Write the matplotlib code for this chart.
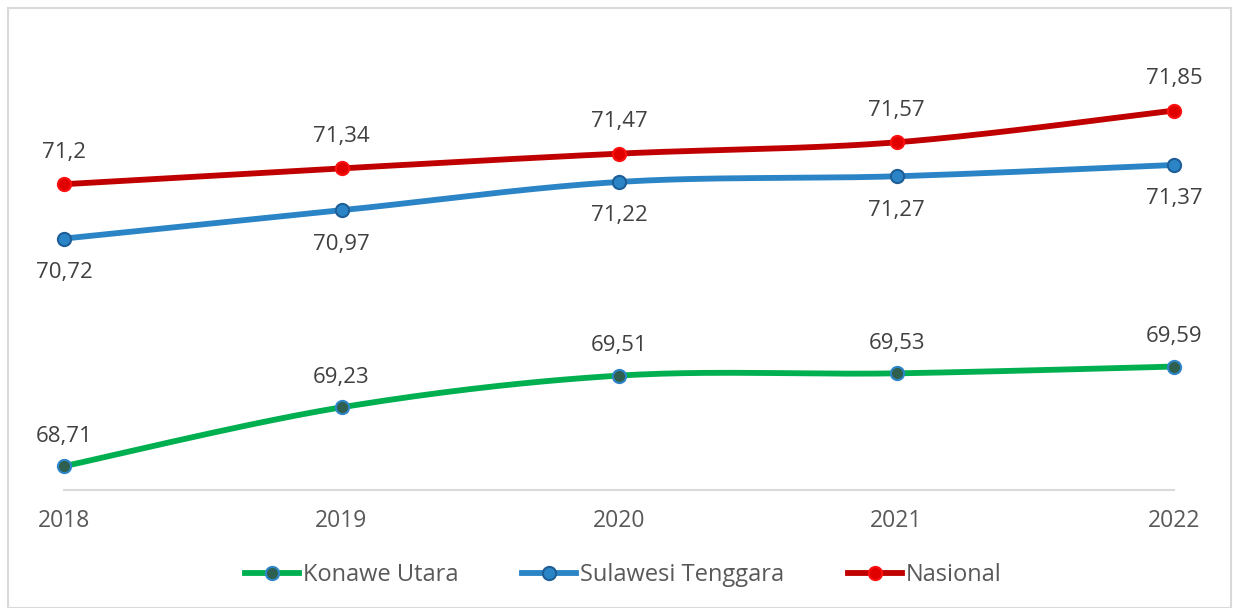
import matplotlib
matplotlib.use("Agg")
import matplotlib.pyplot as plt
import numpy as np
from matplotlib.patches import Rectangle
from matplotlib.lines import Line2D

plt.rcParams.update({
    "font.family": ["Open Sans", "DejaVu Sans"],
    "font.size": 16,
})

years = [2018, 2019, 2020, 2021, 2022]
konawe = [68.71, 69.23, 69.51, 69.53, 69.59]
sultra = [70.72, 70.97, 71.22, 71.27, 71.37]
nasional = [71.2, 71.34, 71.47, 71.57, 71.85]
series_names = ["Konawe Utara", "Sulawesi Tenggara", "Nasional"]


def smooth(x, y, n=40):
    """Excel-like smoothed line: cubic Bezier with 1/6 tangent control points."""
    x = np.asarray(x, float)
    y = np.asarray(y, float)
    px = np.concatenate([[x[0]], x, [x[-1]]])
    py = np.concatenate([[y[0]], y, [y[-1]]])
    xs, ys = [], []
    t = np.linspace(0, 1, n)
    for i in range(1, len(px) - 2):
        p0 = np.array([px[i], py[i]])
        p3 = np.array([px[i + 1], py[i + 1]])
        c1 = p0 + (np.array([px[i + 1], py[i + 1]]) - np.array([px[i - 1], py[i - 1]])) / 6
        c2 = p3 - (np.array([px[i + 2], py[i + 2]]) - np.array([px[i], py[i]])) / 6
        b = ((1 - t) ** 3)[:, None] * p0 + (3 * (1 - t) ** 2 * t)[:, None] * c1 \
            + (3 * (1 - t) * t ** 2)[:, None] * c2 + (t ** 3)[:, None] * p3
        xs.append(b[:, 0])
        ys.append(b[:, 1])
    return np.concatenate(xs), np.concatenate(ys)


fig = plt.figure(figsize=(12.33, 6.08), dpi=100)
fig.patches.append(Rectangle((7.5 / 1233, 0), (1230.5 - 7.5) / 1233, (608 - 7.5) / 608,
                             transform=fig.transFigure, fill=False,
                             edgecolor="#D9D9D9", linewidth=1.5))

ax = fig.add_axes([64 / 1233, (608 - 490) / 608, 1110 / 1233, 396.4 / 608])
ax.set_xlim(2018, 2022)
ax.set_ylim(68.5, 72.0)

styles = [
    # line color, marker face, marker edge, label offset (px)
    ("#00B050", "#2F5F4F", "#2E86C8", 30),
    ("#2A84C6", "#2A84C6", "#1F5E96", -34),
    ("#C00000", "#E00000", "#FF1010", 32),
]
handles = []
for vals, (lc, mf, me, off) in zip([konawe, sultra, nasional], styles):
    sx, sy = smooth(years, vals)
    ax.plot(sx, sy, color=lc, linewidth=4.2, solid_capstyle="round", clip_on=False, zorder=3)
    ax.plot(years, vals, "o", markersize=9.5, markerfacecolor=mf, markeredgecolor=me,
            markeredgewidth=1.5, clip_on=False, zorder=4)
    for xv, yv in zip(years, vals):
        lab = f"{yv:g}".replace(".", ",")
        ax.annotate(lab, (xv, yv), xytext=(0, off), textcoords="offset pixels",
                    ha="center", va="center", fontsize=16, color="#404040")
    handles.append(Line2D([], [], color=lc, linewidth=4.2, marker="o", markersize=9.5,
                          markerfacecolor=mf, markeredgecolor=me, markeredgewidth=1.5))

for s in ["top", "right", "left"]:
    ax.spines[s].set_visible(False)
ax.spines["bottom"].set_color("#D9D9D9")
ax.spines["bottom"].set_linewidth(1.5)
ax.set_yticks([])
ax.set_xticks(years)
ax.set_xticklabels([str(y) for y in years])
ax.tick_params(axis="x", length=0, pad=14, labelsize=16.5, labelcolor="#595959")

fig.legend(handles, series_names, loc="center", bbox_to_anchor=(623 / 1233, 1 - 575 / 608),
           ncol=3, frameon=False, fontsize=17, handlelength=2.3, handletextpad=0.15,
           columnspacing=2.7, labelcolor="#595959")

fig.savefig("out.png", dpi=100)
